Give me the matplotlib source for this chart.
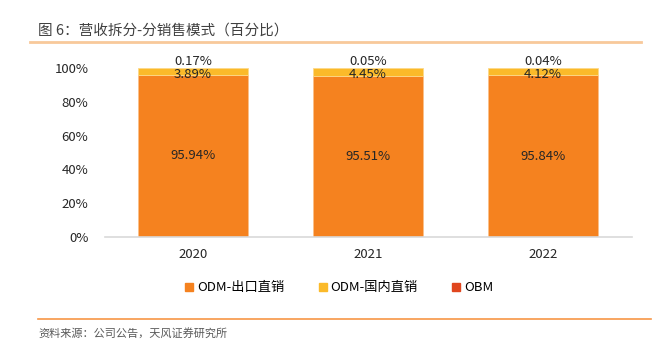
import matplotlib.pyplot as plt
from matplotlib.lines import Line2D

plt.rcParams['font.family'] = ['Noto Sans CJK SC', 'DejaVu Sans']

years = ['2020', '2021', '2022']
odm_export = [95.94, 95.51, 95.84]
odm_domestic = [3.89, 4.45, 4.12]
obm = [0.17, 0.05, 0.04]
series_names = ['ODM-出口直销', 'ODM-国内直销', 'OBM']
colors = ['#F5821F', '#FBBA2A', '#E0461E']

fig = plt.figure(figsize=(6.69, 3.46), dpi=100)
ax = fig.add_axes([0.157, 0.315, 0.788, 0.4885])

x = range(len(years))
w = 0.63
ax.bar(x, odm_export, w, color=colors[0], edgecolor='#FBC08A', linewidth=0.6, label=series_names[0])
ax.bar(x, odm_domestic, w, bottom=odm_export, color=colors[1], edgecolor='#FDD98A', linewidth=0.6, label=series_names[1])
bot2 = [a + b for a, b in zip(odm_export, odm_domestic)]
ax.bar(x, obm, w, bottom=bot2, color=colors[2], linewidth=0, label=series_names[2])

for i in x:
    ax.text(i, odm_export[i] / 2, f'{odm_export[i]:.2f}%', ha='center', va='center', fontsize=9.5, color='#262626')
    ax.annotate(f'{odm_domestic[i]:.2f}%', (i, odm_export[i] + odm_domestic[i] / 2), xytext=(0, -2),
                textcoords='offset points', ha='center', va='center', fontsize=9.5, color='#262626')
    ax.annotate(f'{obm[i]:.2f}%', (i, bot2[i] + obm[i] / 2), xytext=(0, 4.5),
                textcoords='offset points', ha='center', va='center', fontsize=9.5, color='#262626')

ax.set_xlim(-0.503, 2.509)
ax.set_ylim(0, 100)
ax.set_yticks(range(0, 101, 20))
ax.set_yticklabels([f'{v}%' for v in range(0, 101, 20)])
ax.set_xticks(list(x))
ax.set_xticklabels(years)
ax.tick_params(axis='both', length=0, labelsize=9.5, colors='#262626')
ax.tick_params(axis='y', pad=12)
ax.tick_params(axis='x', pad=8)
for s in ['top', 'right', 'left']:
    ax.spines[s].set_visible(False)
ax.spines['bottom'].set_color('#D9D9D9')
ax.spines['bottom'].set_linewidth(1.2)

handles = [Line2D([], [], marker='s', linestyle='none', markersize=6, color=c) for c in colors]
fig.legend(handles, series_names, loc='center', bbox_to_anchor=(0.505, 0.168), ncol=3, frameon=False,
           fontsize=9.5, handletextpad=0.1, columnspacing=2.4, handlelength=1.0)

fig.text(0.057, 0.913, '图 6：营收拆分-分销售模式（百分比）', fontsize=10.5, color='#404040', va='center')
fig.add_artist(Line2D([0.045, 0.958], [0.878, 0.878], color='#F8C99A', linewidth=2))
fig.add_artist(Line2D([0.057, 0.973], [0.078, 0.078], color='#F79646', linewidth=1.2))
fig.text(0.057, 0.037, '资料来源：公司公告，天风证券研究所', fontsize=8, color='#595959', va='center')

fig.savefig('out.png', dpi=100)
